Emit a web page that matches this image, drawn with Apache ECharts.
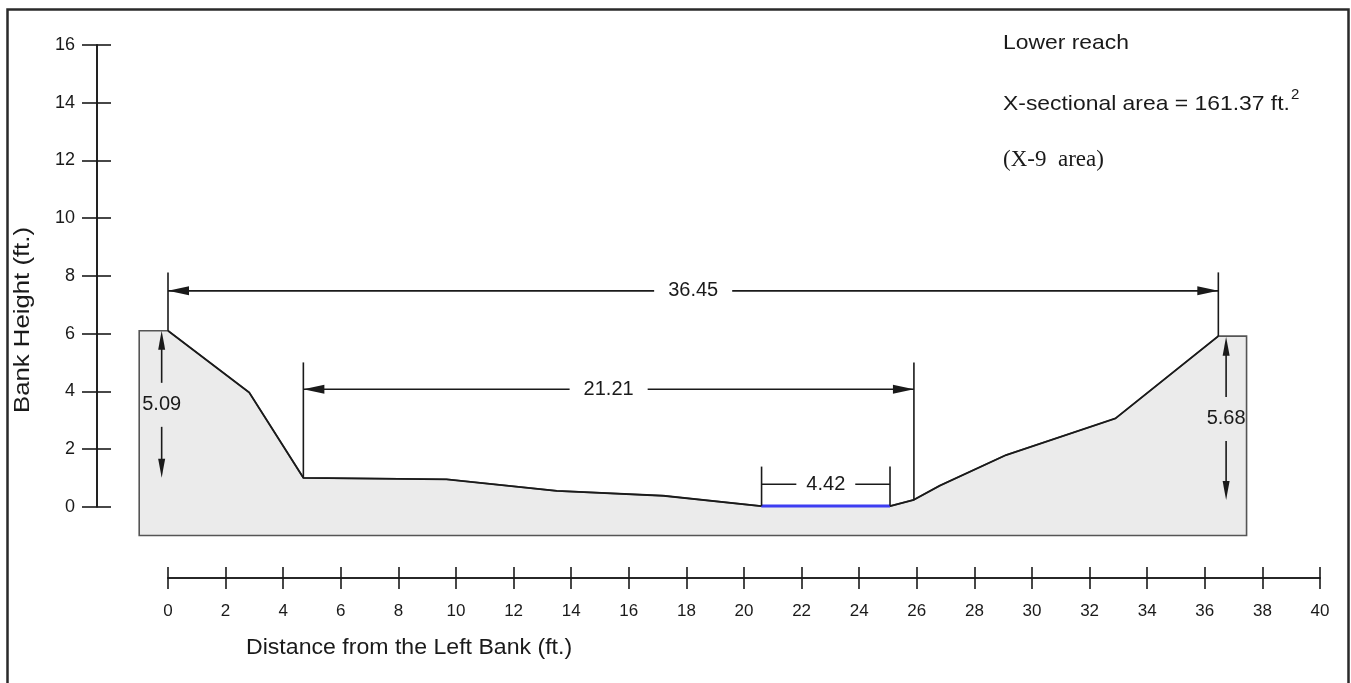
<!DOCTYPE html>
<html><head><meta charset="utf-8">
<script src="https://cdn.jsdelivr.net/npm/echarts@6/dist/echarts.min.js"></script>
<style>html,body{margin:0;padding:0;background:#fff}#c{width:1351px;height:683px}</style>
</head><body><div id="c"></div>
<script>
// ---- data ----
const xTickValues = [0,2,4,6,8,10,12,14,16,18,20,22,24,26,28,30,32,34,36,38,40];
const yTickValues = [0,2,4,6,8,10,12,14,16];
// channel bed profile (ft)
const profileX = [0, 2.82, 4.7, 9.67, 13.5, 17.2, 20.6, 25.07, 25.9, 26.8, 29.1, 32.9, 36.47];
const profileY = [6.1, 3.96, 1.0, 0.95, 0.55, 0.38, 0.02, 0.02, 0.24, 0.73, 1.79, 3.06, 5.91];
// cross-section block (outline incl. banks & base)
const sectionX = [-1, 0, 2.82, 4.7, 9.67, 13.5, 17.2, 20.6, 25.07, 25.9, 26.8, 29.1, 32.9, 36.47, 37.45, 37.45, -1];
const sectionY = [6.1, 6.1, 3.96, 1.0, 0.95, 0.55, 0.38, 0.02, 0.02, 0.24, 0.73, 1.79, 3.06, 5.91, 5.91, -1, -1];
// water surface
const waterX = [20.6, 25.07];
const waterY = [0.02, 0.02];
// horizontal dimensions
const hDimLabels = ['36.45', '21.21', '4.42'];
const hDimX1 = [0, 4.7, 20.61];
const hDimX2 = [36.47, 25.9, 25.07];
const hDimY = [7.48, 4.07, 0.78];
const hDimTop = [8.12, 5.0, 1.39];
const hDimBottomL = [6.1, 1.0, 0.03];
const hDimBottomR = [5.91, 0.24, 0.03];
const hDimArrows = [true, true, false];
// vertical dimensions
const vDimLabels = ['5.09', '5.68'];
const vDimX = [-0.22, 36.74];
const vDimTop = [6.1, 5.89];
const vDimBottom = [1.0, 0.23];
const vDimLabelY = [3.53, 3.04];
// texts
const noteLines = ['Lower reach', 'X-sectional area = 161.37 ft.', '(X-9  area)'];
const xAxisTitle = 'Distance from the Left Bank (ft.)';
const yAxisTitle = 'Bank Height (ft.)';

// ---- chart ----
const FONT = '"Liberation Sans", Arial, Helvetica, sans-serif';
const SERIF = '"Liberation Serif", "Times New Roman", serif';
const INK = '#1a1a1a';

function measure(text, font) {
  const c = document.createElement('canvas').getContext('2d');
  c.font = font; return c.measureText(text).width;
}

const chart = echarts.init(document.getElementById('c'), null, {renderer: 'canvas'});

function hDimRender(params, api) {
  const i = api.value(6);
  const pL = api.coord([api.value(0), api.value(1)]);
  const pR = api.coord([api.value(2), api.value(1)]);
  const lt = api.coord([api.value(0), api.value(3)]);
  const lb = api.coord([api.value(0), api.value(4)]);
  const rt = api.coord([api.value(2), api.value(3)]);
  const rb = api.coord([api.value(2), api.value(5)]);
  const y = pL[1];
  const cx = (pL[0] + pR[0]) / 2;
  const tw = measure(hDimLabels[i], '20px ' + FONT);
  const half = tw / 2 + (hDimArrows[i] ? 14 : 10);
  const ls = {stroke: INK, lineWidth: 1.6};
  const ch = [
    {type: 'line', shape: {x1: lt[0], y1: lt[1], x2: lb[0], y2: lb[1]}, style: ls},
    {type: 'line', shape: {x1: rt[0], y1: rt[1], x2: rb[0], y2: rb[1]}, style: ls},
    {type: 'line', shape: {x1: pL[0], y1: y, x2: cx - half, y2: y}, style: ls},
    {type: 'line', shape: {x1: cx + half, y1: y, x2: pR[0], y2: y}, style: ls},
    {type: 'text', x: cx, y: y, style: {text: hDimLabels[i], font: '20px ' + FONT, fill: INK, align: 'center', verticalAlign: 'middle'}}
  ];
  if (hDimArrows[i]) {
    ch.push({type: 'polygon', shape: {points: [[pL[0], y], [pL[0] + 21, y - 4.5], [pL[0] + 21, y + 4.5]]}, style: {fill: INK}});
    ch.push({type: 'polygon', shape: {points: [[pR[0], y], [pR[0] - 21, y - 4.5], [pR[0] - 21, y + 4.5]]}, style: {fill: INK}});
  }
  return {type: 'group', children: ch};
}

function vDimRender(params, api) {
  const i = api.value(4);
  const top = api.coord([api.value(0), api.value(1)]);
  const bot = api.coord([api.value(0), api.value(2)]);
  const lab = api.coord([api.value(0), api.value(3)]);
  const x = top[0];
  const ls = {stroke: INK, lineWidth: 1.6};
  return {type: 'group', children: [
    {type: 'line', shape: {x1: x, y1: top[1] + 10, x2: x, y2: lab[1] - 22}, style: ls},
    {type: 'line', shape: {x1: x, y1: lab[1] + 22, x2: x, y2: bot[1] - 10}, style: ls},
    {type: 'polygon', shape: {points: [[x, top[1]], [x - 3.5, top[1] + 19], [x + 3.5, top[1] + 19]]}, style: {fill: INK}},
    {type: 'polygon', shape: {points: [[x, bot[1]], [x - 3.5, bot[1] - 19], [x + 3.5, bot[1] - 19]]}, style: {fill: INK}},
    {type: 'text', x: x, y: lab[1], style: {text: vDimLabels[i], font: '20px ' + FONT, fill: INK, align: 'center', verticalAlign: 'middle'}}
  ]};
}

const axisLineStyle = {color: INK, width: 1.6};
const baseX = {type: 'value', min: 0, max: 40, interval: 2, position: 'bottom', offset: 71.3,
  axisLine: {show: true, onZero: false, lineStyle: axisLineStyle}, splitLine: {show: false}};
const baseY = {type: 'value', min: 0, max: 16, interval: 2, position: 'left', offset: 71,
  axisLine: {show: true, onZero: false, lineStyle: axisLineStyle}, splitLine: {show: false}};

const NOTE_FONT = '21px ' + FONT;
const NOTE_SX = 1.09;
const supX = 1003 + measure(noteLines[1], NOTE_FONT) * NOTE_SX + 1;

chart.setOption({
  animation: false,
  backgroundColor: '#fff',
  grid: {left: 168, top: 45, width: 1152, height: 461.7, outerBoundsMode: 'none', containLabel: false},
  xAxis: [
    Object.assign({}, baseX, {axisTick: {show: true, inside: false, length: 11, lineStyle: axisLineStyle},
      axisLabel: {show: true, margin: 25, fontSize: 17, fontFamily: FONT, color: INK, showMinLabel: true, showMaxLabel: true,
        formatter: v => xTickValues.includes(v) ? String(v) : ''}}),
    Object.assign({}, baseX, {axisTick: {show: true, inside: true, length: 11, lineStyle: axisLineStyle}, axisLabel: {show: false}})
  ],
  yAxis: [
    Object.assign({}, baseY, {axisTick: {show: true, inside: false, length: 15, lineStyle: axisLineStyle},
      axisLabel: {show: true, margin: 22, fontSize: 18, fontFamily: FONT, color: INK,
        formatter: v => yTickValues.includes(v) ? String(v) : ''}}),
    Object.assign({}, baseY, {axisTick: {show: true, inside: true, length: 14, lineStyle: axisLineStyle}, axisLabel: {show: false}})
  ],
  series: [
    {type: 'custom', silent: true, clip: false, z: 1, data: [[0, 0]],
      renderItem: (params, api) => ({type: 'polygon',
        shape: {points: sectionX.map((x, i) => api.coord([x, sectionY[i]]))},
        style: {fill: '#ebebeb', stroke: '#555', lineWidth: 1.6}})},
    {type: 'line', silent: true, clip: false, z: 3, symbol: 'none',
      data: profileX.map((x, i) => [x, profileY[i]]), lineStyle: {color: INK, width: 1.8}},
    {type: 'line', silent: true, clip: false, z: 4, symbol: 'none',
      data: waterX.map((x, i) => [x, waterY[i]]), lineStyle: {color: '#3d3df2', width: 3}},
    {type: 'custom', silent: true, clip: false, z: 5,
      data: hDimLabels.map((l, i) => [hDimX1[i], hDimY[i], hDimX2[i], hDimTop[i], hDimBottomL[i], hDimBottomR[i], i]),
      renderItem: hDimRender},
    {type: 'custom', silent: true, clip: false, z: 5,
      data: vDimLabels.map((l, i) => [vDimX[i], vDimTop[i], vDimBottom[i], vDimLabelY[i], i]),
      renderItem: vDimRender}
  ],
  graphic: [
    {type: 'rect', left: 5, top: 7, shape: {width: 1341, height: 700}, style: {fill: 'none', stroke: '#2a2a2a', lineWidth: 2.5}, silent: true},
    {type: 'text', x: 1003, y: 43, scaleX: NOTE_SX, style: {text: noteLines[0], font: NOTE_FONT, fill: INK, verticalAlign: 'middle'}},
    {type: 'text', x: 1003, y: 104, scaleX: NOTE_SX, style: {text: noteLines[1], font: NOTE_FONT, fill: INK, verticalAlign: 'middle'}},
    {type: 'text', x: supX, y: 95, style: {text: '2', font: '15px ' + FONT, fill: INK, verticalAlign: 'middle'}},
    {type: 'text', x: 1003, y: 160, style: {text: noteLines[2], font: '23px ' + SERIF, fill: INK, verticalAlign: 'middle'}},
    {type: 'text', x: 246, y: 648, scaleX: 1.05, style: {text: xAxisTitle, font: '22px ' + FONT, fill: INK, verticalAlign: 'middle'}},
    {type: 'text', x: 23, y: 320, rotation: Math.PI / 2, scaleX: 1.17, style: {text: yAxisTitle, font: '22px ' + FONT, fill: INK, align: 'center', verticalAlign: 'middle'}}
  ]
});
</script></body></html>
